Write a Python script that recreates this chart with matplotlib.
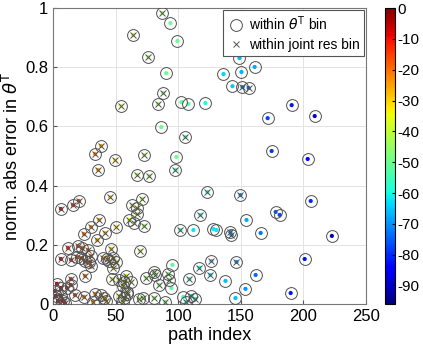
import matplotlib
matplotlib.use('Agg')
import matplotlib.pyplot as plt
import numpy as np

plt.rcParams['font.family'] = ['Liberation Sans', 'DejaVu Sans']
plt.rcParams['axes.unicode_minus'] = False

# path index, normalised abs error, path power (dB), inside joint res bin (1/0)
path_idx = [87.3, 93.8, 64.1, 99.4, 76.1, 90.5, 88.1, 54.5, 84.1, 102.6,
            108.2, 121.8, 86.5, 105.8, 38.5, 33.7, 49.7, 72.9, 98.6, 36.1,
            97.8, 67.3, 76.9, 149.0, 136.2, 150.6, 161.1, 143.4, 151.4, 156.3,
            190.7, 171.5, 209.1, 174.7, 203.5, 6.4, 16.0, 20.8, 45.7, 63.3,
            67.3, 71.3, 67.3, 60.9, 64.9, 72.9, 36.9, 30.4, 24.8, 50.5,
            41.7, 35.3, 69.7, 101.8, 112.2, 123.4, 117.8, 128.2, 130.6,
            6.4, 12.0, 14.4, 20.0, 23.2, 28.0, 19.2, 22.4, 25.6, 30.4,
            28.8, 30.4, 25.6, 46.5, 40.1, 43.3, 44.9, 48.1, 48.1, 50.5,
            47.3, 52.9, 58.5, 56.9, 62.5, 56.1, 59.3, 56.9, 56.1, 52.9,
            59.3, 74.5, 80.9, 81.7, 84.9, 92.1, 92.9, 95.4, 94.6, 109.0,
            68.9, 72.1, 80.9, 89.7, 104.2, 106.6, 110.6, 113.8,
            126.6, 117.0, 125.8, 146.6, 137.8, 145.8, 153.8, 161.9, 189.9, 201.1,
            222.8, 205.9, 177.9, 181.1, 154.6, 165.9, 141.8, 142.6, 149.8,
            3.2, 6.4, 14.4, 14.4, 11.2, 0.8, 2.4, 6.4, 4.0, 8.0,
            9.6, 17.6, 24.8, 33.7, 38.5, 40.9, 32.1, 42.5]
abs_err = [0.983, 0.949, 0.909, 0.889, 0.834, 0.780, 0.713, 0.669, 0.676, 0.682,
           0.676, 0.679, 0.598, 0.564, 0.534, 0.507, 0.486, 0.503, 0.497, 0.453,
           0.453, 0.436, 0.432, 0.831, 0.777, 0.784, 0.801, 0.736, 0.733, 0.730,
           0.672, 0.628, 0.635, 0.517, 0.490, 0.321, 0.334, 0.348, 0.361, 0.334,
           0.324, 0.355, 0.304, 0.284, 0.274, 0.264, 0.284, 0.260, 0.236, 0.260,
           0.240, 0.216, 0.179, 0.250, 0.250, 0.378, 0.301, 0.253, 0.250,
           0.152, 0.189, 0.149, 0.196, 0.189, 0.182, 0.159, 0.155, 0.145, 0.162,
           0.142, 0.128, 0.095, 0.186, 0.155, 0.152, 0.145, 0.155, 0.122, 0.142,
           0.084, 0.081, 0.095, 0.074, 0.074, 0.061, 0.041, 0.020, 0.007, 0.027,
           0.034, 0.088, 0.108, 0.098, 0.064, 0.101, 0.081, 0.132, 0.054, 0.084,
           0.017, 0.020, 0.020, 0.007, 0.024, 0.007, 0.027, 0.017,
           0.145, 0.122, 0.098, 0.142, 0.078, 0.020, 0.051, 0.098, 0.037, 0.152,
           0.230, 0.348, 0.311, 0.301, 0.284, 0.240, 0.243, 0.233, 0.368,
           0.068, 0.054, 0.084, 0.064, 0.054, 0.044, 0.027, 0.027, 0.010, 0.010,
           0.003, 0.030, 0.024, 0.034, 0.030, 0.020, 0.007, 0.010]
power_db = [-45, -50, -40, -51, -44, -50, -46, -38, -45, -52,
            -52, -60, -50, -52, -25, -23, -33, -42, -50, -25,
            -52, -42, -44, -67, -64, -67, -68, -65, -72, -73,
            -82, -78, -88, -79, -84, -8, -13, -15, -30, -38,
            -40, -42, -42, -37, -40, -44, -25, -22, -20, -33,
            -28, -25, -40, -55, -62, -60, -60, -62, -62,
            -8, -12, -13, -17, -18, -20, -17, -18, -20, -21,
            -21, -22, -20, -30, -28, -29, -30, -31, -33, -32,
            -35, -37, -38, -37, -40, -37, -38, -37, -37, -36,
            -39, -44, -46, -46, -47, -48, -48, -52, -52, -58,
            -43, -44, -46, -48, -55, -58, -60, -60,
            -62, -60, -62, -70, -66, -66, -70, -74, -82, -82,
            -92, -80, -76, -77, -68, -73, -70, -70, -70,
            -5, -7, -12, -12, -10, -4, -5, -7, -6, -8,
            -9, -15, -20, -24, -26, -27, -23, -28]
in_joint = [1, 0, 1, 0, 1, 0, 1, 1, 1, 0,
            0, 0, 0, 1, 1, 1, 1, 1, 0, 1,
            1, 1, 1, 0, 0, 0, 0, 0, 1, 1,
            0, 0, 0, 0, 0, 1, 1, 1, 1, 1,
            1, 1, 1, 1, 1, 1, 1, 1, 1, 1,
            1, 1, 1, 1, 0, 1, 1, 0, 0,
            1, 1, 1, 1, 1, 1, 1, 1, 1, 1,
            1, 1, 1, 1, 1, 1, 1, 1, 1, 1,
            1, 1, 1, 1, 1, 1, 1, 1, 1, 1,
            1, 1, 1, 1, 1, 1, 1, 0, 0, 1,
            1, 1, 1, 1, 0, 1, 1, 1,
            1, 1, 1, 1, 0, 0, 0, 0, 0, 0,
            0, 0, 0, 0, 0, 0, 1, 1, 1,
            1, 1, 1, 1, 1, 1, 1, 1, 1, 1,
            1, 1, 1, 1, 1, 1, 1, 1]

x = np.array(path_idx)
y = np.array(abs_err)
c = np.array(power_db)
j = np.array(in_joint) == 1

fig = plt.figure(figsize=(4.23, 3.51), dpi=100)
ax = fig.add_axes([0.1253, 0.134, 0.7397, 0.843])
cax = fig.add_axes([0.910, 0.134, 0.0236, 0.843])

sc = ax.scatter(x, y, c=c, cmap='jet', vmin=-96, vmax=0, s=9, zorder=2, linewidths=0)
ax.plot(x, y, 'o', ms=8.5, mfc='none', mec='#505050', mew=0.7, zorder=3,
        label=r'within $\theta^{\rm T}$ bin')
ax.plot(x[j], y[j], 'x', ms=5, mec='#505050', mew=0.7, zorder=3,
        label='within joint res bin')

ax.set_xlim(0, 250)
ax.set_ylim(0, 1)
ax.set_xticks([0, 50, 100, 150, 200, 250])
ax.set_yticks([0, 0.2, 0.4, 0.6, 0.8, 1])
ax.set_yticklabels(['0', '0.2', '0.4', '0.6', '0.8', '1'])
ax.grid(True, color='#e3e3e3', lw=0.7)
ax.set_axisbelow(True)
ax.tick_params(direction='in', length=3, labelsize=12, color='#555555')
for s in ax.spines.values():
    s.set_color('#777777')
    s.set_linewidth(0.8)
ax.set_xlabel('path index', fontsize=13, labelpad=2)
ax.set_ylabel(r'norm. abs error in $\theta^{\rm T}$', fontsize=13, labelpad=2)

leg = ax.legend(loc='upper right', fontsize=10, frameon=True, fancybox=False,
                edgecolor='#555555', borderpad=0.3, handletextpad=0.3,
                handlelength=1.3, labelspacing=0.35, borderaxespad=0.15)
leg.get_frame().set_linewidth(0.8)
leg.get_frame().set_alpha(1)

cb = fig.colorbar(sc, cax=cax, ticks=list(range(-90, 1, 10)))
cb.ax.tick_params(direction='in', length=2, labelsize=11, pad=2)
cb.outline.set_linewidth(0.8)

fig.savefig('out.png', dpi=100)
